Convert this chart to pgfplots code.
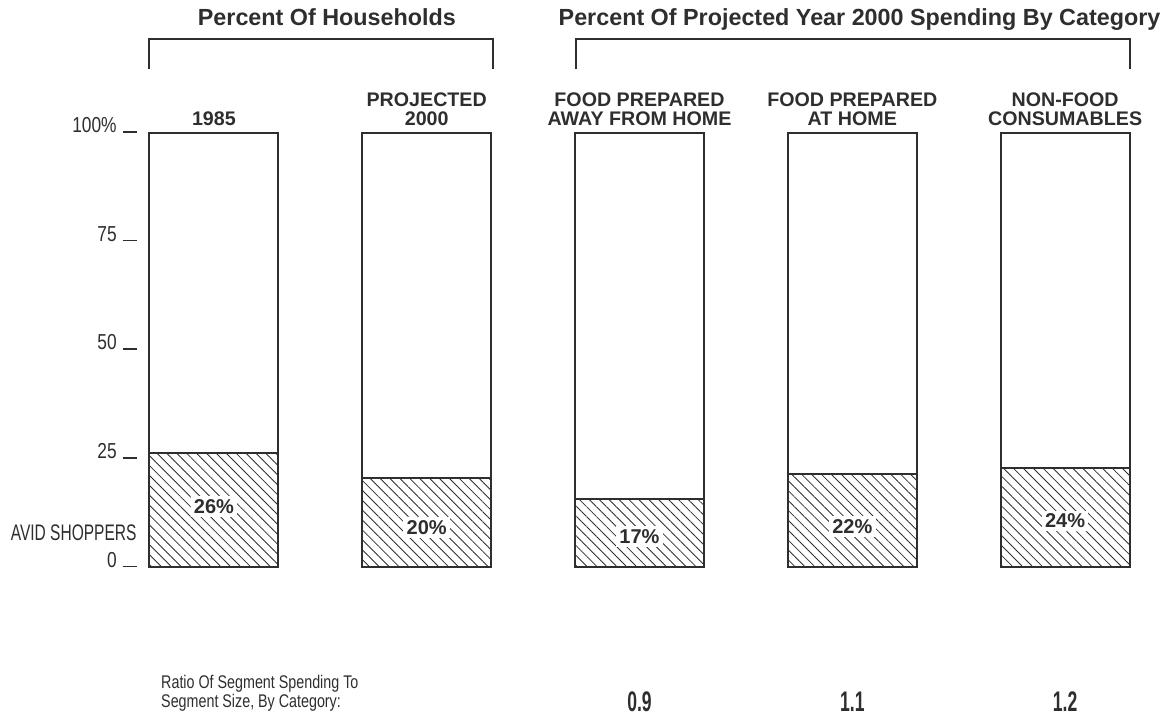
\documentclass[border=0pt]{standalone}
\usepackage{pgfplots}
\pgfplotsset{compat=1.18}
\usepackage{pgfplotstable}
\usetikzlibrary{patterns.meta}
\usepackage{fontspec}
\setmainfont{Liberation Sans}
\newfontfamily\cond[FakeStretch=0.78]{Liberation Sans}
\newfontfamily\condT[FakeStretch=0.80]{Liberation Sans}
\newfontfamily\condA[FakeStretch=0.69]{Liberation Sans}
\newfontfamily\condB[FakeStretch=0.62]{Liberation Sans}
\definecolor{ink}{HTML}{2E2E2E}
\newcommand\tk{\hspace{3.6pt}\rule{8.4pt}{0.9pt}}

\pgfplotstableread{
x avid rest
0 26.3 73.7
1 20.5 79.5
2 15.7 84.3
3 21.4 78.6
4 22.8 77.2
}\bars

\begin{document}
\begin{tikzpicture}[every node/.style={text=ink}]
\useasboundingbox (-89.4pt,-93pt) rectangle (610.8pt,340.2pt);
\begin{axis}[at={(0,0)}, anchor=south west, scale only axis,
  width=588.6pt, height=260.4pt,
  xmin=-0.305, xmax=4.305, ymin=0, ymax=100,
  ybar stacked, bar width=77.4pt,
  axis line style={draw=none}, major tick length=0pt,
  xtick=\empty, ytick={0,25,50,75,100},
  yticklabels={0\tk,25\tk,50\tk,75\tk,100\%\tk},
  yticklabel style={anchor=base east, inner sep=0pt, xshift=-7.2pt,
    font=\condT\fontsize{13}{14}\selectfont, text=ink},
  clip=false,
  every axis plot/.append style={draw=ink, line width=1.2pt}]
\addplot[pattern={Lines[angle=-45,distance=4.2pt,line width=0.5pt]}, pattern color=ink] table[x=x,y=avid]{\bars};
\addplot[fill=white] table[x=x,y=rest]{\bars};

% anchor points for bar value labels
\coordinate (l0) at (axis cs:0,12.4);
\coordinate (l1) at (axis cs:1,7.6);
\coordinate (l2) at (axis cs:2,5.5);
\coordinate (l3) at (axis cs:3,7.8);
\coordinate (l4) at (axis cs:4,9.0);

% category labels
\tikzset{cl/.style={anchor=base, inner sep=0pt, font=\bfseries\fontsize{11.8}{12}\selectfont}}
\node[cl] at (axis cs:0,101.8) {1985};
\node[cl] at (axis cs:1,106.0) {PROJECTED};
\node[cl] at (axis cs:1,101.8) {2000};
\node[cl] at (axis cs:2,106.0) {FOOD PREPARED};
\node[cl] at (axis cs:2,101.8) {AWAY FROM HOME};
\node[cl] at (axis cs:3,106.0) {FOOD PREPARED};
\node[cl] at (axis cs:3,101.8) {AT HOME};
\node[cl] at (axis cs:4,106.0) {NON-FOOD};
\node[cl] at (axis cs:4,101.8) {CONSUMABLES};

% brackets and titles
\draw[ink, line width=1.2pt] (axis cs:-0.305,114.7) -- (axis cs:-0.305,121.7) -- (axis cs:1.31,121.7) -- (axis cs:1.31,114.7);
\draw[ink, line width=1.2pt] (axis cs:1.70,114.7) -- (axis cs:1.70,121.7) -- (axis cs:4.307,121.7) -- (axis cs:4.307,114.7);
\tikzset{tl/.style={anchor=base, inner sep=0pt, font=\bfseries\fontsize{14}{16}\selectfont}}
\node[tl] at (axis cs:0.531,124.7) {Percent Of Households};
\node[tl] at (axis cs:3.034,124.7) {Percent Of Projected Year 2000 Spending By Category};

% left label
\node[anchor=base east, inner sep=0pt, font=\condA\fontsize{13.5}{14}\selectfont] at (axis cs:-0.362,6.2) {AVID SHOPPERS};

% bottom text
\tikzset{bt/.style={anchor=base west, inner sep=0pt, font=\cond\fontsize{11}{12}\selectfont}}
\node[bt] at (axis cs:-0.249,-27.9) {Ratio Of Segment Spending To};
\node[bt] at (axis cs:-0.249,-32.3) {Segment Size, By Category:};
\tikzset{rv/.style={anchor=base, inner sep=0pt, font=\condB\bfseries\fontsize{17}{18}\selectfont}}
\node[rv] at (axis cs:2,-33.2) {0.9};
\node[rv] at (axis cs:3,-33.2) {1.1};
\node[rv] at (axis cs:4,-33.2) {1.2};
\end{axis}
\tikzset{bl/.style={anchor=base, fill=white, inner sep=2pt, font=\bfseries\fontsize{12}{13}\selectfont}}
\node[bl] at (l0) {26\%};
\node[bl] at (l1) {20\%};
\node[bl] at (l2) {17\%};
\node[bl] at (l3) {22\%};
\node[bl] at (l4) {24\%};
\end{tikzpicture}
\end{document}
